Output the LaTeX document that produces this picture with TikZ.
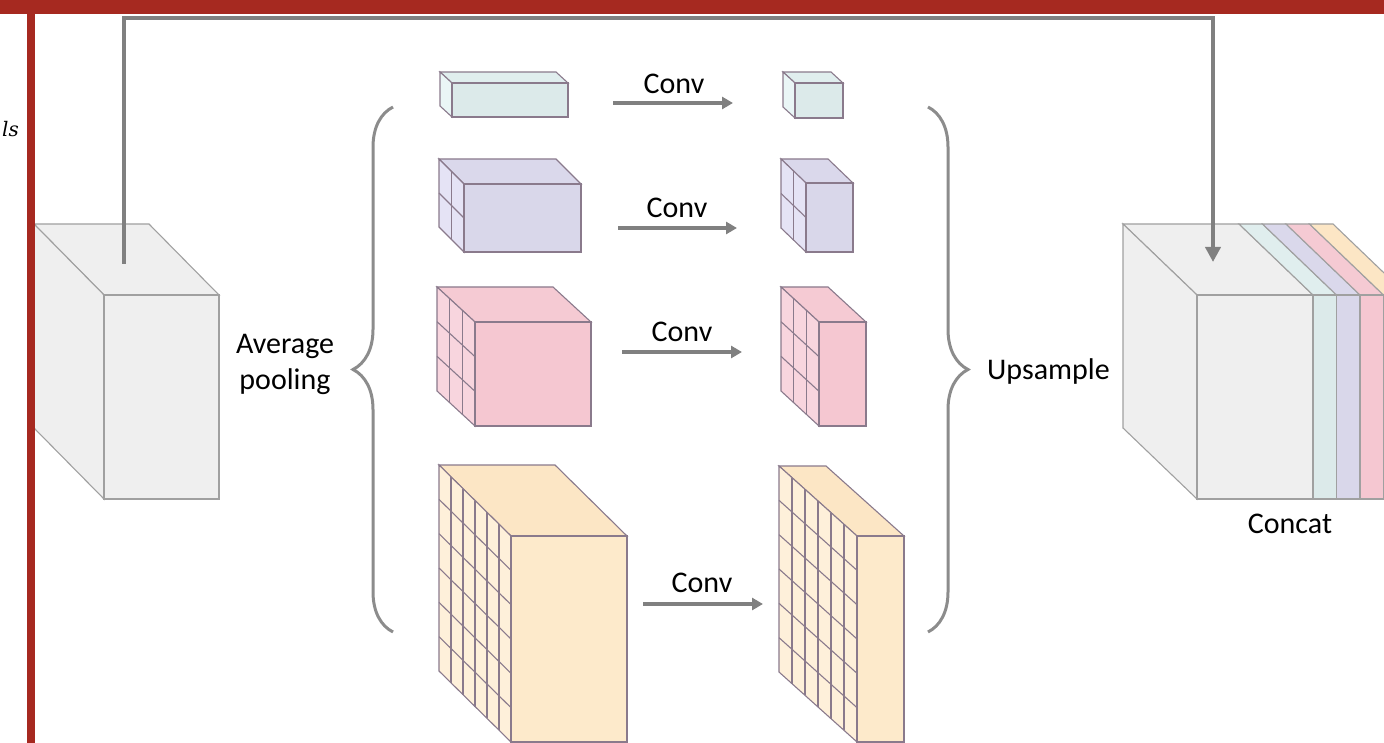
\documentclass[tikz,border=0pt]{standalone}
\usepackage{fontspec}
\setmainfont{Carlito}
\newfontfamily\slideserif{DejaVu Serif}
\usetikzlibrary{arrows.meta}
\usetikzlibrary{decorations.pathreplacing}
\usetikzlibrary{calc}

\definecolor{slidered}{RGB}{166,41,32}
\definecolor{arrowgrey}{RGB}{128,128,128}
\definecolor{bracegrey}{RGB}{140,140,140}
\definecolor{edgemauve}{RGB}{138,122,140}
\definecolor{edgegrey}{RGB}{160,160,160}
\definecolor{tealF}{HTML}{DCEAEA}
\definecolor{tealS}{HTML}{EAF6F6}
\definecolor{tealT}{HTML}{E0EEEE}
\definecolor{lilacF}{HTML}{D9D7EA}
\definecolor{lilacS}{HTML}{E5E3F5}
\definecolor{lilacT}{HTML}{DAD8EB}
\definecolor{pinkF}{HTML}{F5C7D1}
\definecolor{pinkS}{HTML}{F8D5DE}
\definecolor{pinkT}{HTML}{F5CAD3}
\definecolor{sandF}{HTML}{FDEACB}
\definecolor{sandS}{HTML}{FEF0DA}
\definecolor{sandT}{HTML}{FCE6C5}
\definecolor{greyF}{HTML}{EFEFEF}
\definecolor{greyS}{HTML}{EFEFEF}
\definecolor{greyT}{HTML}{EFEFEF}

% x, y (front top-left), width, height, depth x, depth y, colour, inner grid lines, edge style
\newcommand{\featblock}[9]{%
  \filldraw[#9, fill=#7T] (#1,#2) -- ++(-#5,-#6) -- ++(#3,0) -- ++(#5,#6) -- cycle;
  \filldraw[#9, fill=#7S] (#1,#2) -- ++(-#5,-#6) -- ++(0,#4) -- ++(#5,#6) -- cycle;
  \ifnum#8>0
    \foreach \k in {1,...,#8}{
      \draw[#9] ({#1-#5+\k*#5/(#8+1)},{#2-#6+\k*#6/(#8+1)}) -- ++(0,#4);
      \draw[#9] ({#1-#5},{#2-#6+\k*#4/(#8+1)}) -- ++(#5,#6);
    }
  \fi
  \filldraw[#9, fill=#7F] (#1,#2) rectangle ++(#3,#4);
}

\begin{document}
\begin{tikzpicture}[x=1pt, y=-1pt,
blockedge/.style={draw=edgemauve, line width=1.1pt},
greyedge/.style={draw=edgegrey, line width=1.1pt},
convarrow/.style={draw=arrowgrey, line width=4pt, -{Triangle[length=11pt,width=12pt]}},
skipline/.style={draw=arrowgrey, line width=4.5pt, line join=miter, -{Triangle[length=15pt,width=15pt]}},
bigbrace/.style={draw=bracegrey, line width=3pt, decorate, decoration={brace, amplitude=40pt}},
labeltext/.style={font=\fontsize{30}{36}\selectfont, inner sep=0pt},
]
\path[use as bounding box] (0,0) rectangle (1384,743);
\clip (0,0) rectangle (1384,743);

%Input block
\featblock{104}{295}{115}{204}{70}{71}{grey}{0}{greyedge}

%Pooled blocks
\featblock{452}{83}{116}{34}{12}{11}{teal}{0}{blockedge}
\featblock{464}{184}{117}{68}{25}{25}{lilac}{1}{blockedge}
\featblock{475}{322}{116}{104}{38}{35}{pink}{2}{blockedge}
\featblock{511}{536}{116}{206}{72}{71}{sand}{5}{blockedge}

%Conv blocks
\featblock{795}{83}{48}{35}{12}{11}{teal}{0}{blockedge}
\featblock{806}{183}{47}{69}{25}{24}{lilac}{1}{blockedge}
\featblock{819}{322}{47}{104}{38}{35}{pink}{2}{blockedge}
\featblock{857}{536}{47}{206}{78}{70}{sand}{5}{blockedge}

%Concat block
\featblock{1197}{295}{116}{204}{74}{71}{grey}{0}{greyedge}
\foreach \c/\k in {teal/0,lilac/1,pink/2,sand/3}{
  \filldraw[greyedge, fill=\c T] ({1313+23.5*\k},295) -- ++(-74,-71) -- ++(23.5,0) -- ++(74,71) -- cycle;
  \filldraw[greyedge, fill=\c F] ({1313+23.5*\k},295) rectangle ++(23.5,204);
}

%Slide frame
\fill[slidered] (0,0) rectangle (1384,14);
\fill[slidered] (27,14) rectangle (35,743);
\node[font=\slideserif\itshape\fontsize{20}{24}\selectfont, inner sep=0pt, anchor=base east] (cutword) at (19,137) {ls};

%Labels
\node[labeltext, align=center] (poolinglabel) at (285,364) {Average\\pooling};
\node[labeltext, anchor=west] (upsamplelabel) at (987,372) {Upsample};
\node[labeltext] (concatlabel) at (1290,524) {Concat};
\node[labeltext] (conv1) at (674,84) {Conv};
\node[labeltext] (conv2) at (677,208) {Conv};
\node[labeltext] (conv3) at (682,332) {Conv};
\node[labeltext] (conv4) at (702,583) {Conv};

%Coordinates
\coordinate (c1a) at (613,103);
\coordinate (c1b) at (733,103);
\coordinate (c2a) at (618,228);
\coordinate (c2b) at (737,228);
\coordinate (c3a) at (622,352);
\coordinate (c3b) at (742,352);
\coordinate (c4a) at (643,604);
\coordinate (c4b) at (763,604);
\coordinate (pooltop) at (393,107);
\coordinate (poolbot) at (393,632);
\coordinate (uptop) at (928,107);
\coordinate (upbot) at (928,632);
\coordinate (skipsrc) at (124,264);
\coordinate (skipdst) at (1213,262);
\coordinate (skiptop) at (0,18);

%Lines
\draw[convarrow] (c1a) -- (c1b);
\draw[convarrow] (c2a) -- (c2b);
\draw[convarrow] (c3a) -- (c3b);
\draw[convarrow] (c4a) -- (c4b);

\draw[bigbrace] (poolbot) -- (pooltop);
\draw[bigbrace] (uptop) -- (upbot);

\draw[skipline] (skipsrc) -- (skipsrc |- skiptop) -- (skipdst |- skiptop) -- (skipdst);

\end{tikzpicture}
\end{document}
